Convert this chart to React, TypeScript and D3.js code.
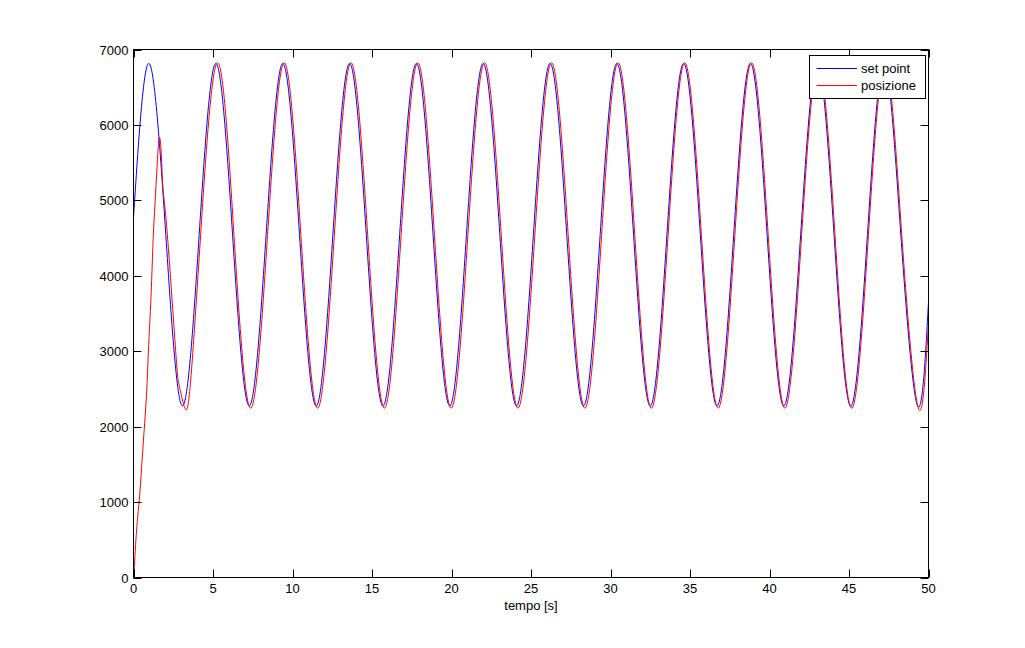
import React from "react";
import * as d3 from "d3";

// set point (blue): time [s] and value
const setPointT = [0, 0.98, 2.03, 3.08, 4.13, 5.18, 6.23, 7.28, 8.34, 9.39, 10.44, 11.49, 12.54, 13.59, 14.64, 15.69, 16.74, 17.79, 18.84, 19.89, 20.94, 21.99, 23.04, 24.09, 25.15, 26.2, 27.25, 28.3, 29.35, 30.4, 31.45, 32.5, 33.55, 34.6, 35.65, 36.7, 37.75, 38.8, 39.85, 40.9, 41.96, 43.01, 44.06, 45.11, 46.16, 47.21, 48.26, 49.31, 50];
const setPointV = [4770, 6815, 4545, 2275, 4545, 6815, 4545, 2275, 4545, 6815, 4545, 2275, 4545, 6815, 4545, 2275, 4545, 6815, 4545, 2275, 4545, 6815, 4545, 2275, 4545, 6815, 4545, 2275, 4545, 6815, 4545, 2275, 4545, 6815, 4545, 2275, 4545, 6815, 4545, 2275, 4545, 6815, 4545, 2275, 4545, 6815, 4545, 2275, 3650];

// posizione (red): time [s] and value
const posT = [0, 0.05, 0.19, 0.36, 0.51, 0.66, 0.82, 0.93, 1.03, 1.14, 1.24, 1.35, 1.49, 1.62, 1.75, 1.85, 2.13, 2.65, 2.87, 3.22, 3.57, 4.22, 5.27, 6.32, 7.37, 8.43, 9.48, 10.53, 11.58, 12.63, 13.68, 14.73, 15.78, 16.83, 17.88, 18.93, 19.98, 21.03, 22.08, 23.13, 24.18, 25.24, 26.29, 27.34, 28.39, 29.44, 30.48, 31.53, 32.57, 33.62, 34.67, 35.72, 36.77, 37.82, 38.87, 39.92, 40.97, 42.02, 43.07, 44.12, 45.17, 46.22, 47.27, 48.32, 49.36, 50];
const posV = [0, 130, 618, 1016, 1458, 1922, 2431, 2961, 3403, 3933, 4507, 4950, 5480, 5832, 5612, 5170, 4540, 3010, 2550, 2250, 2550, 4535, 6825, 4535, 2245, 4535, 6825, 4535, 2245, 4535, 6825, 4535, 2245, 4535, 6825, 4535, 2245, 4535, 6825, 4535, 2245, 4535, 6825, 4535, 2245, 4535, 6825, 4535, 2245, 4535, 6825, 4535, 2245, 4535, 6825, 4535, 2245, 4535, 6825, 4535, 2245, 4535, 6825, 4535, 2245, 3380];

const xTicks = [0, 5, 10, 15, 20, 25, 30, 35, 40, 45, 50];
const yTicks = [0, 1000, 2000, 3000, 4000, 5000, 6000, 7000];
const xLabel = "tempo [s]";
const legendLabels = ["set point", "posizione"];
const colors = ["#0000ff", "#ff0000"];

export default function App() {
  const W = 1025, H = 648;
  const left = 133.5, right = 928.5, top = 49.5, bottom = 577.5;
  const x = d3.scaleLinear().domain([0, 50]).range([left, right]);
  const y = d3.scaleLinear().domain([0, 7000]).range([bottom, top]);
  const line = d3
    .line<[number, number]>()
    .x((d) => x(d[0]))
    .y((d) => y(d[1]))
    .curve(d3.curveNatural);
  const blue = setPointT.map((t, i) => [t, setPointV[i]] as [number, number]);
  const red = posT.map((t, i) => [t, posV[i]] as [number, number]);
  const font = "'Liberation Sans', Arial, Helvetica, sans-serif";
  const tl = 8;
  const lg = { x0: 809.5, y0: 55.5, x1: 925.5, y1: 98.5 };
  return (
    <svg
      width={W}
      height={H}
      style={{ position: "absolute", left: 0, top: 0, background: "#fff" }}
      fontFamily={font}
      fontSize={13}
    >
      <defs>
        <clipPath id="plotclip">
          <rect x={left} y={top - 2} width={right - left} height={bottom - top + 2} />
        </clipPath>
      </defs>
      <rect x={0} y={0} width={W} height={H} fill="#fff" />
      <g clipPath="url(#plotclip)" fill="none" strokeWidth={1}>
        <path d={line(blue) || ""} stroke={colors[0]} />
        <path d={line(red) || ""} stroke={colors[1]} />
      </g>
      {/* axes box */}
      <rect x={left} y={top} width={right - left} height={bottom - top} fill="none" stroke="#000" strokeWidth={1} />
      {xTicks.map((t) => (
        <g key={"x" + t}>
          <line x1={Math.round(x(t)) + 0.5} x2={Math.round(x(t)) + 0.5} y1={bottom} y2={bottom - tl} stroke="#000" />
          <line x1={Math.round(x(t)) + 0.5} x2={Math.round(x(t)) + 0.5} y1={top} y2={top + tl} stroke="#000" />
          <text x={x(t)} y={593} textAnchor="middle" fill="#000">
            {t}
          </text>
        </g>
      ))}
      {yTicks.map((v) => (
        <g key={"y" + v}>
          <line x1={left} x2={left + tl} y1={Math.round(y(v)) + 0.5} y2={Math.round(y(v)) + 0.5} stroke="#000" />
          <line x1={right} x2={right - tl} y1={Math.round(y(v)) + 0.5} y2={Math.round(y(v)) + 0.5} stroke="#000" />
          <text x={128.5} y={y(v) + 5} textAnchor="end" fill="#000">
            {v}
          </text>
        </g>
      ))}
      <text x={(left + right) / 2} y={609.5} textAnchor="middle" fill="#000">
        {xLabel}
      </text>
      {/* legend */}
      <rect x={lg.x0} y={lg.y0} width={lg.x1 - lg.x0} height={lg.y1 - lg.y0} fill="#fff" stroke="#000" />
      {legendLabels.map((lab, i) => {
        const ly = i === 0 ? 68.5 : 85.5;
        return (
          <g key={lab}>
            <line x1={816.5} x2={857} y1={ly} y2={ly} stroke={colors[i]} />
            <text x={861} y={ly + 4.5} fill="#000">
              {lab}
            </text>
          </g>
        );
      })}
    </svg>
  );
}
